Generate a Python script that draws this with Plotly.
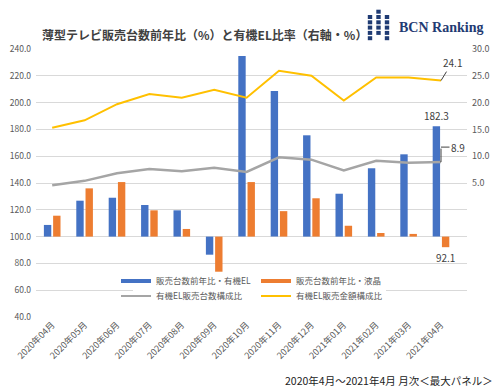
import plotly.graph_objects as go

months = ["2020年04月", "2020年05月", "2020年06月", "2020年07月", "2020年08月", "2020年09月",
          "2020年10月", "2020年11月", "2020年12月", "2021年01月", "2021年02月", "2021年03月", "2021年04月"]
oled_yoy = [108.7, 126.8, 129.0, 123.6, 119.6, 86.5, 234.8, 208.7, 175.6, 132.0, 151.0, 161.4, 182.3]
lcd_yoy = [115.6, 136.0, 140.7, 119.6, 105.7, 73.8, 140.7, 119.0, 128.6, 108.1, 102.7, 102.0, 92.1]
oled_unit_share = [4.6, 5.4, 6.8, 7.6, 7.2, 7.85, 7.05, 9.8, 9.35, 7.35, 9.15, 8.8, 8.9]
oled_value_share = [15.3, 16.7, 19.7, 21.6, 20.9, 22.4, 20.9, 25.95, 25.0, 20.4, 24.7, 24.7, 24.1]

left_ticks = [40, 60, 80, 100, 120, 140, 160, 180, 200, 220, 240]
right_ticks = [5, 10, 15, 20, 25, 30]

BLUE = "#4472C4"
ORANGE = "#ED7D31"
GRAY = "#A5A5A5"
YELLOW = "#FFC000"
FONT = "Noto Sans CJK JP"
TXT = "#595959"

# page body has an 8px default margin; figure is sized to fit the 500x389 window
OFF = 8
W, H = 500 - OFF, 389 - OFF
ML, MT = 36 - OFF, 49 - OFF
MR = W - (467 - OFF)
MB = H - (317 - OFF)
PW, PH = W - ML - MR, H - MT - MB


def px(xp):
    return (xp - OFF - ML) / PW


def py(yp):
    return (H - MB - (yp - OFF)) / PH


fig = go.Figure()

last_lbl_o = ["" for _ in oled_yoy[:-1]] + [f"{oled_yoy[-1]:.1f}"]
last_lbl_l = ["" for _ in lcd_yoy[:-1]] + [f"{lcd_yoy[-1]:.1f}"]

fig.add_trace(go.Bar(
    x=months, y=[v - 100 for v in oled_yoy], base=100, name="販売台数前年比・有機EL",
    marker=dict(color=BLUE, line=dict(width=0)), showlegend=False, legendgroup="a",
    text=last_lbl_o, textposition="outside", constraintext="none", cliponaxis=False,
    textfont=dict(size=10, color="#404040", family=FONT)))
fig.add_trace(go.Bar(
    x=months, y=[v - 100 for v in lcd_yoy], base=100, name="販売台数前年比・液晶",
    marker=dict(color=ORANGE, line=dict(width=0)), showlegend=False, legendgroup="b",
    text=last_lbl_l, textposition="outside", constraintext="none", cliponaxis=False,
    textfont=dict(size=10, color="#404040", family=FONT)))

fig.add_trace(go.Scatter(
    x=months, y=oled_unit_share, yaxis="y2", mode="lines", name="有機EL販売台数構成比",
    line=dict(color=GRAY, width=2.5), showlegend=False, legendgroup="c"))
fig.add_trace(go.Scatter(
    x=months, y=oled_value_share, yaxis="y2", mode="lines", name="有機EL販売金額構成比",
    line=dict(color=YELLOW, width=2), showlegend=False, legendgroup="d"))

# legend entries
fig.add_trace(go.Scatter(x=[None], y=[None], mode="lines", name="販売台数前年比・有機EL",
                         line=dict(color=BLUE, width=4), legend="legend", legendgroup="a"))
fig.add_trace(go.Scatter(x=[None], y=[None], mode="lines", name="販売台数前年比・液晶",
                         line=dict(color=ORANGE, width=4), legend="legend", legendgroup="b"))
fig.add_trace(go.Scatter(x=[None], y=[None], mode="lines", name="有機EL販売台数構成比",
                         line=dict(color=GRAY, width=2), legend="legend2", legendgroup="c"))
fig.add_trace(go.Scatter(x=[None], y=[None], mode="lines", name="有機EL販売金額構成比",
                         line=dict(color=YELLOW, width=2), legend="legend2", legendgroup="d"))

annotations = [
    dict(x=px(40), y=py(35), xref="paper", yref="paper", xanchor="left", yanchor="middle",
         text="<b>薄型テレビ販売台数前年比（%）と有機EL比率（右軸・%）</b>", showarrow=False,
         font=dict(size=12, color="#404040", family=FONT)),
    dict(x=px(397), y=py(28), xref="paper", yref="paper", xanchor="left", yanchor="middle",
         text="<b>BCN Ranking</b>", showarrow=False,
         font=dict(size=14, color="#1F3B73", family="Liberation Serif")),
    dict(x=px(495), y=py(380), xref="paper", yref="paper", xanchor="right", yanchor="middle",
         text="2020年4月～2021年4月 月次＜最大パネル＞", showarrow=False,
         font=dict(size=10.5, color="#222222", family=FONT)),
    dict(x=months[-1], y=oled_value_share[-1], xref="x", yref="y2",
         text=f"{oled_value_share[-1]:.1f}", showarrow=True, arrowhead=0, arrowwidth=1,
         arrowcolor="#404040", ax=11, ay=-18, standoff=0,
         font=dict(size=10, color="#404040", family=FONT)),
    dict(x=months[-1], y=oled_unit_share[-1], xref="x", yref="y2",
         text="", showarrow=True, arrowhead=0, arrowwidth=1,
         arrowcolor="#404040", ax=0, ay=-15, standoff=0),
    dict(x=months[-1], y=oled_unit_share[-1], xref="x", yref="y2", yshift=15,
         text=f"{oled_unit_share[-1]:.1f}", showarrow=True, arrowhead=0, arrowwidth=1,
         arrowcolor="#404040", ax=17, ay=0, standoff=0,
         font=dict(size=10, color="#404040", family=FONT)),
]

shapes = []
# white legend box (covers gridlines behind the legend)
shapes.append(dict(type="rect", xref="paper", yref="paper",
                   x0=px(133), x1=px(386), y0=py(305), y1=py(273),
                   fillcolor="white", line=dict(width=0), layer="above"))
# logo icon squares
cols = [370, 378.5, 387]
rows = [11.7, 17.0, 22.3, 27.6, 32.9, 38.2]
for ci, cx in enumerate(cols):
    for ri, ry in enumerate(rows):
        if ci == 1 and ri == 5:
            continue
        if ci != 1 and ri == 0:
            continue
        shapes.append(dict(type="rect", xref="paper", yref="paper",
                           x0=px(cx - 2.2), x1=px(cx + 2.2), y0=py(ry + 2), y1=py(ry - 2),
                           fillcolor="#1F3B73", line=dict(width=0), layer="above"))

LEGFONT = dict(size=8.5, color=TXT, family=FONT)

fig.update_layout(
    width=W, height=H,
    margin=dict(l=ML, r=MR, t=MT, b=MB, pad=0, autoexpand=False),
    paper_bgcolor="white", plot_bgcolor="white",
    font=dict(family=FONT, size=9, color=TXT),
    barmode="group", bargap=0.43, bargroupgap=0.2,
    xaxis=dict(type="category", tickangle=-45, showgrid=False, zeroline=False, showline=False,
               ticks="", tickfont=dict(size=9, color=TXT), automargin=False),
    yaxis=dict(range=[40, 240], tickvals=left_ticks, ticktext=[f"{v:.1f}" for v in left_ticks],
               showgrid=True, gridcolor="#D9D9D9", gridwidth=1, zeroline=False, showline=False,
               ticks="", tickfont=dict(size=8.5, color=TXT), ticklabelstandoff=4, automargin=False),
    yaxis2=dict(range=[-20, 30], overlaying="y", side="right", tickvals=right_ticks,
                ticktext=[f"{v:.1f}" for v in right_ticks], showgrid=False, zeroline=False,
                showline=False, ticks="", tickfont=dict(size=9, color=TXT), ticklabelstandoff=4,
                automargin=False),
    legend=dict(orientation="h", x=px(116), y=py(281), xanchor="left", yanchor="middle",
                bgcolor="rgba(0,0,0,0)", entrywidth=95, font=LEGFONT, itemclick=False),
    legend2=dict(orientation="h", x=px(116), y=py(296), xanchor="left", yanchor="middle",
                 bgcolor="rgba(0,0,0,0)", entrywidth=95, font=LEGFONT),
    annotations=annotations,
    shapes=shapes,
)

fig.write_html("out.html")
